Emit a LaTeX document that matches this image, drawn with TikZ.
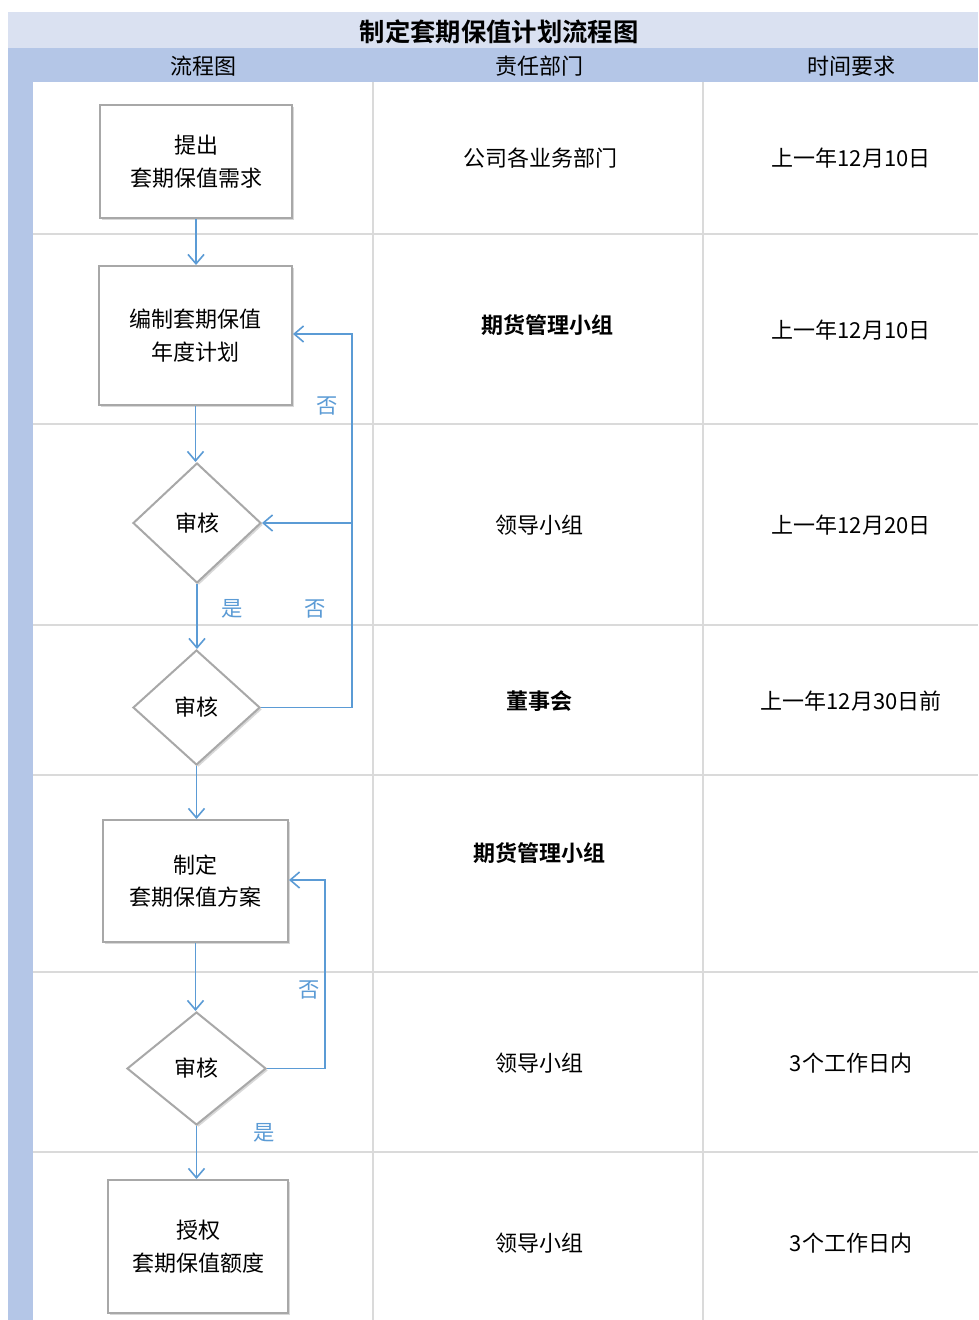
\documentclass[tikz,border=0pt]{standalone}
\usepackage{fontspec}
\setmainfont{Noto Sans CJK SC}
\newfontfamily\cjkbold{Noto Sans CJK SC Bold}
\usetikzlibrary{arrows.meta,shapes.geometric,shadows}
\definecolor{titlebg}{HTML}{DAE1F1}
\definecolor{headbg}{HTML}{B4C6E7}
\definecolor{gridc}{HTML}{DADADA}
\definecolor{flowblue}{HTML}{5B9BD5}
\definecolor{boxborder}{HTML}{A8A8A8}
\tikzset{
  procbox/.style={draw=boxborder, line width=1.5pt, fill=white, align=center,
    font=\fontsize{16.5}{24.5}\selectfont, drop shadow={shadow xshift=1.5pt, shadow yshift=-1.5pt, opacity=0.25, fill=black!60}},
  decide/.style={diamond, draw=boxborder, line width=1.5pt, fill=white, inner sep=0pt,
    font=\fontsize{16.5}{21}\selectfont, drop shadow={shadow xshift=1.5pt, shadow yshift=-1.5pt, opacity=0.25, fill=black!60}},
  flow/.style={draw=flowblue, line width=1.3pt, -{Straight Barb[length=7pt, width=12pt, line width=1.2pt]}},
  lbl/.style={text=flowblue, font=\fontsize{16}{18}\selectfont},
  celltext/.style={font=\fontsize{16.5}{20}\selectfont},
  cellbold/.style={font=\cjkbold\fontsize{16.5}{20}\selectfont},
  grid/.style={draw=gridc, line width=1.5pt},
  hdr/.style={font=\fontsize{16.5}{20}\selectfont}
}
\begin{document}
\begin{tikzpicture}[x=0.75pt, y=-0.75pt]
\useasboundingbox (0,0) rectangle (978,1320);
\fill[white] (0,0) rectangle (978,1320);
% bands
\fill[titlebg] (8,12) rectangle (978,48);
\fill[headbg] (8,48) rectangle (978,82);
\fill[headbg] (8,82) rectangle (33,1320);
\node[font=\cjkbold\fontsize{19}{22}\selectfont] (title) at (499,32) {制定套期保值计划流程图};
\node[hdr] (h1) at (203,66) {流程图};
\node[hdr] (h2) at (539,66) {责任部门};
\node[hdr] (h3) at (851,66) {时间要求};
% grid
\draw[grid] (373,82) -- (373,1320);
\draw[grid] (703,82) -- (703,1320);
\foreach \yy in {234,424,625,775,972,1152}{
  \draw[grid] (33,\yy) -- (978,\yy);
}
% flow nodes
\node[procbox, minimum width=144pt, minimum height=84.75pt] (b1) at (196,161.5) {提出\\套期保值需求};
\node[procbox, minimum width=144.75pt, minimum height=104.25pt] (b2) at (195.5,335.5) {编制套期保值\\年度计划};
\node[decide, minimum width=96pt, minimum height=90pt] (d1) at (197,523) {审核};
\node[decide, minimum width=95.25pt, minimum height=86.25pt] (d2) at (196.5,707.5) {审核};
\node[procbox, minimum width=138.75pt, minimum height=91.5pt] (b3) at (195.5,881) {制定\\套期保值方案};
\node[decide, minimum width=104.25pt, minimum height=84.75pt] (d3) at (196.5,1068.5) {审核};
\node[procbox, minimum width=135pt, minimum height=99.75pt] (b4) at (198,1246.5) {授权\\套期保值额度};
% connectors
\draw[flow] (b1.south) -- (b2.north -| b1.south);
\draw[flow] (b2.south) -- (d1.north -| b2.south);
\draw[flow] (d1.south) -- (d2.north -| d1.south);
\draw[flow] (d2.south) -- (b3.north -| d2.south);
\draw[flow] (b3.south) -- (d3.north -| b3.south);
\draw[flow] (d3.south) -- (b4.north -| d3.south);
\coordinate (r1) at (352,707.5);
\coordinate (r2) at (352,334);
\coordinate (r3) at (352,523);
\draw[flow] (d2.east) -- (r1) -- (r2) -- (b2.east |- r2);
\draw[flow] (r3) -- (d1.east);
\coordinate (s1) at (325,1068.5);
\coordinate (s2) at (325,880);
\draw[flow] (d3.east) -- (s1) -- (s2) -- (b3.east |- s2);
% labels
\node[lbl] (n1) at (327,406) {否};
\node[lbl] (y1) at (232,609) {是};
\node[lbl] (n2) at (315,609) {否};
\node[lbl] (n3) at (309,990) {否};
\node[lbl] (y2) at (264,1133) {是};
% middle column
\node[celltext] (m1) at (540,158) {公司各业务部门};
\node[cellbold] (m2) at (547,325) {期货管理小组};
\node[celltext] (m3) at (539,525) {领导小组};
\node[cellbold] (m4) at (539,701) {董事会};
\node[cellbold] (m5) at (539,853) {期货管理小组};
\node[celltext] (m6) at (539,1063) {领导小组};
\node[celltext] (m7) at (539,1243) {领导小组};
% right column
\node[celltext] (t1) at (851,158) {上一年12月10日};
\node[celltext] (t2) at (851,330) {上一年12月10日};
\node[celltext] (t3) at (851,525) {上一年12月20日};
\node[celltext] (t4) at (851,701) {上一年12月30日前};
\node[celltext] (t6) at (851,1063) {3个工作日内};
\node[celltext] (t7) at (851,1243) {3个工作日内};
\end{tikzpicture}
\end{document}
